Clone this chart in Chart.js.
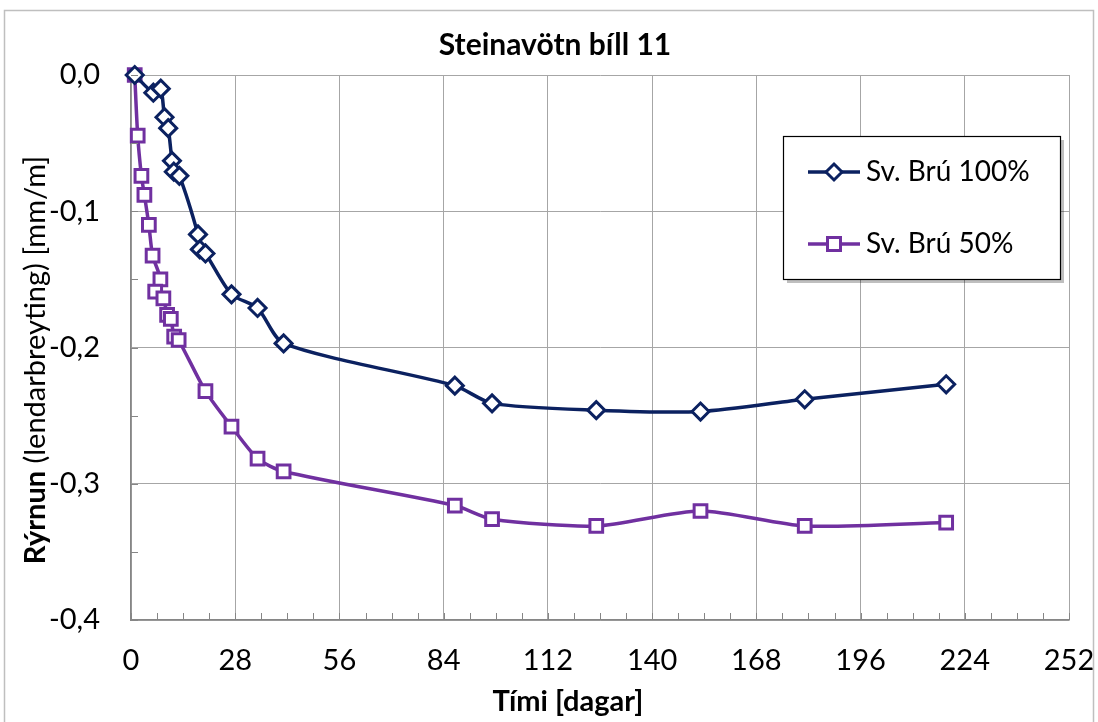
<!DOCTYPE html>
<html>
<head>
<meta charset="utf-8">
<script src="https://cdn.jsdelivr.net/npm/chart.js@4"></script>
<style>
  body { margin: 0; background: #fff; }
  #wrap { width: 1098px; height: 722px; }
</style>
</head>
<body>
<div id="wrap"><canvas id="myChart" width="1098" height="722"></canvas></div>
<script>
// values
const chartTitle = 'Steinavötn bíll 11';
const xTitle = 'Tími [dagar]';
const yTitleBold = 'Rýrnun';
const yTitleRest = ' (lendarbreyting) [mm/m]';

const days100 = [1, 6, 8, 9, 10, 11, 11.5, 13, 18, 18.5, 20, 27, 34, 41, 87, 97, 125, 153, 181, 219];
const vals100 = [0, -0.013, -0.010, -0.031, -0.039, -0.063, -0.071, -0.074, -0.117, -0.128, -0.131,
                 -0.161, -0.171, -0.197, -0.228, -0.241, -0.246, -0.247, -0.238, -0.227];

const days50 = [1, 1.8, 2.8, 3.6, 4.8, 5.8, 7.9, 6.5, 8.7, 9.7, 10.7, 11.6, 12.8, 20, 27, 34, 41, 87, 97, 125, 153, 181, 219];
const vals50 = [0, -0.0445, -0.074, -0.088, -0.110, -0.1325, -0.150, -0.159, -0.164, -0.176, -0.179, -0.192, -0.1945,
                -0.232, -0.258, -0.2815, -0.291, -0.316, -0.326, -0.331, -0.320, -0.331, -0.3285];

const seriesNames = ['Sv. Brú 100%', 'Sv. Brú 50%'];
const seriesColors = ['#0b2160', '#7030a0'];
const xTicks = { min: 0, max: 252, step: 28, minor: 7 };
const yTicks = { min: -0.4, max: 0, step: 0.1, minor: 0.05 };

const FONT = 'Lato, "Open Sans", sans-serif';

function toPoints(xs, ys) {
    return xs.map((x, i) => ({ x: x, y: ys[i] }));
}

// minor tick marks, titles, legend box and outer frame
const decorations = {
    id: 'decorations',
    afterDraw(chart) {
        const ctx = chart.ctx;
        const area = chart.chartArea;
        const xs = chart.scales.x;
        const ys = chart.scales.y;
        ctx.save();

        // outer frame
        ctx.strokeStyle = '#bfbfbf';
        ctx.lineWidth = 1.5;
        ctx.strokeRect(4.5, 10.5, 1089, 740);

        // minor ticks, pointing inward
        ctx.strokeStyle = '#868686';
        ctx.lineWidth = 1;
        ctx.beginPath();
        for (let d = xTicks.min; d <= xTicks.max; d += xTicks.minor) {
            const px = Math.round(xs.getPixelForValue(d)) + 0.5;
            ctx.moveTo(px, area.bottom);
            ctx.lineTo(px, area.bottom - 7);
        }
        for (let v = yTicks.min; v <= yTicks.max + 1e-9; v += yTicks.minor) {
            const py = Math.round(ys.getPixelForValue(v)) + 0.5;
            ctx.moveTo(area.left, py);
            ctx.lineTo(area.left + 7, py);
        }
        ctx.stroke();

        // chart title
        ctx.fillStyle = '#000';
        ctx.textAlign = 'center';
        ctx.textBaseline = 'middle';
        ctx.font = 'bold 30px ' + FONT;
        ctx.fillText(chartTitle, 555, 45);

        // x axis title
        ctx.font = 'bold 29px ' + FONT;
        ctx.fillText(xTitle, 568, 702);

        // y axis title, bold first word
        ctx.translate(36, 360);
        ctx.rotate(-Math.PI / 2);
        ctx.textAlign = 'left';
        ctx.font = 'bold 29px ' + FONT;
        const wb = ctx.measureText(yTitleBold).width;
        ctx.font = '29px ' + FONT;
        const wr = ctx.measureText(yTitleRest).width;
        const start = -(wb + wr) / 2;
        ctx.font = 'bold 29px ' + FONT;
        ctx.fillText(yTitleBold, start, 0);
        ctx.font = '29px ' + FONT;
        ctx.fillText(yTitleRest, start + wb, 0);
        ctx.setTransform(1, 0, 0, 1, 0, 0);

        // legend box with shadow
        const bx = 783, by = 136, bw = 277, bh = 143;
        ctx.fillStyle = 'rgba(0,0,0,0.25)';
        ctx.fillRect(bx + 4, by + 4, bw, bh);
        ctx.fillStyle = '#fff';
        ctx.fillRect(bx, by, bw, bh);
        ctx.strokeStyle = '#000';
        ctx.lineWidth = 1.2;
        ctx.strokeRect(bx + 0.5, by + 0.5, bw, bh);

        const rows = [172, 244];
        chart.data.datasets.forEach((ds, i) => {
            const y = rows[i];
            ctx.strokeStyle = ds.borderColor;
            ctx.lineWidth = 3.5;
            ctx.beginPath();
            ctx.moveTo(808, y);
            ctx.lineTo(860, y);
            ctx.stroke();
            ctx.fillStyle = '#fff';
            ctx.lineWidth = 3;
            ctx.beginPath();
            if (ds.pointStyle === 'rectRot') {
                const r = 8;
                ctx.moveTo(834, y - r);
                ctx.lineTo(834 + r, y);
                ctx.lineTo(834, y + r);
                ctx.lineTo(834 - r, y);
                ctx.closePath();
            } else {
                ctx.rect(827.5, y - 6.5, 13, 13);
            }
            ctx.fill();
            ctx.stroke();
            ctx.fillStyle = '#000';
            ctx.textAlign = 'left';
            ctx.textBaseline = 'middle';
            ctx.font = '28px ' + FONT;
            ctx.fillText(ds.label, 866, y);
        });

        ctx.restore();
    }
};

new Chart(document.getElementById('myChart'), {
    type: 'scatter',
    data: {
        datasets: [{
            label: seriesNames[0],
            data: toPoints(days100, vals100),
            showLine: true,
            clip: false,
            borderColor: seriesColors[0],
            backgroundColor: '#fff',
            borderWidth: 3.5,
            tension: 0.25,
            pointStyle: 'rectRot',
            pointRadius: 8.5,
            pointBorderWidth: 3,
            pointBackgroundColor: '#fff',
            pointBorderColor: seriesColors[0]
        }, {
            label: seriesNames[1],
            data: toPoints(days50, vals50),
            showLine: true,
            clip: false,
            borderColor: seriesColors[1],
            backgroundColor: '#fff',
            borderWidth: 3.5,
            tension: 0.25,
            pointStyle: 'rect',
            pointRadius: 9,
            pointBorderWidth: 3,
            pointBackgroundColor: '#fff',
            pointBorderColor: seriesColors[1]
        }]
    },
    options: {
        responsive: false,
        animation: false,
        layout: {
            padding: { left: 0, right: 29, top: 75, bottom: 0 }
        },
        plugins: {
            legend: { display: false },
            title: { display: false },
            tooltip: { enabled: false }
        },
        scales: {
            x: {
                type: 'linear',
                min: xTicks.min,
                max: xTicks.max,
                afterFit: (s) => { s.height = 102; s.paddingLeft = 0; s.paddingRight = 0; },
                ticks: {
                    stepSize: xTicks.step,
                    color: '#000',
                    padding: 23,
                    font: { family: FONT, size: 29 }
                },
                grid: {
                    color: '#a6a6a6',
                    lineWidth: 1,
                    drawTicks: false
                },
                border: { color: '#868686', width: 1.5 }
            },
            y: {
                type: 'linear',
                min: yTicks.min,
                max: yTicks.max,
                afterFit: (s) => { s.width = 131; },
                ticks: {
                    stepSize: yTicks.step,
                    color: '#000',
                    padding: 31,
                    font: { family: FONT, size: 29 },
                    callback: (v) => (Math.abs(v) < 1e-9 ? 0 : v).toFixed(1).replace('.', ',')
                },
                grid: {
                    color: '#a6a6a6',
                    lineWidth: 1,
                    drawTicks: false
                },
                border: { color: '#868686', width: 1.5 }
            }
        }
    },
    plugins: [decorations]
});
</script>
</body>
</html>
